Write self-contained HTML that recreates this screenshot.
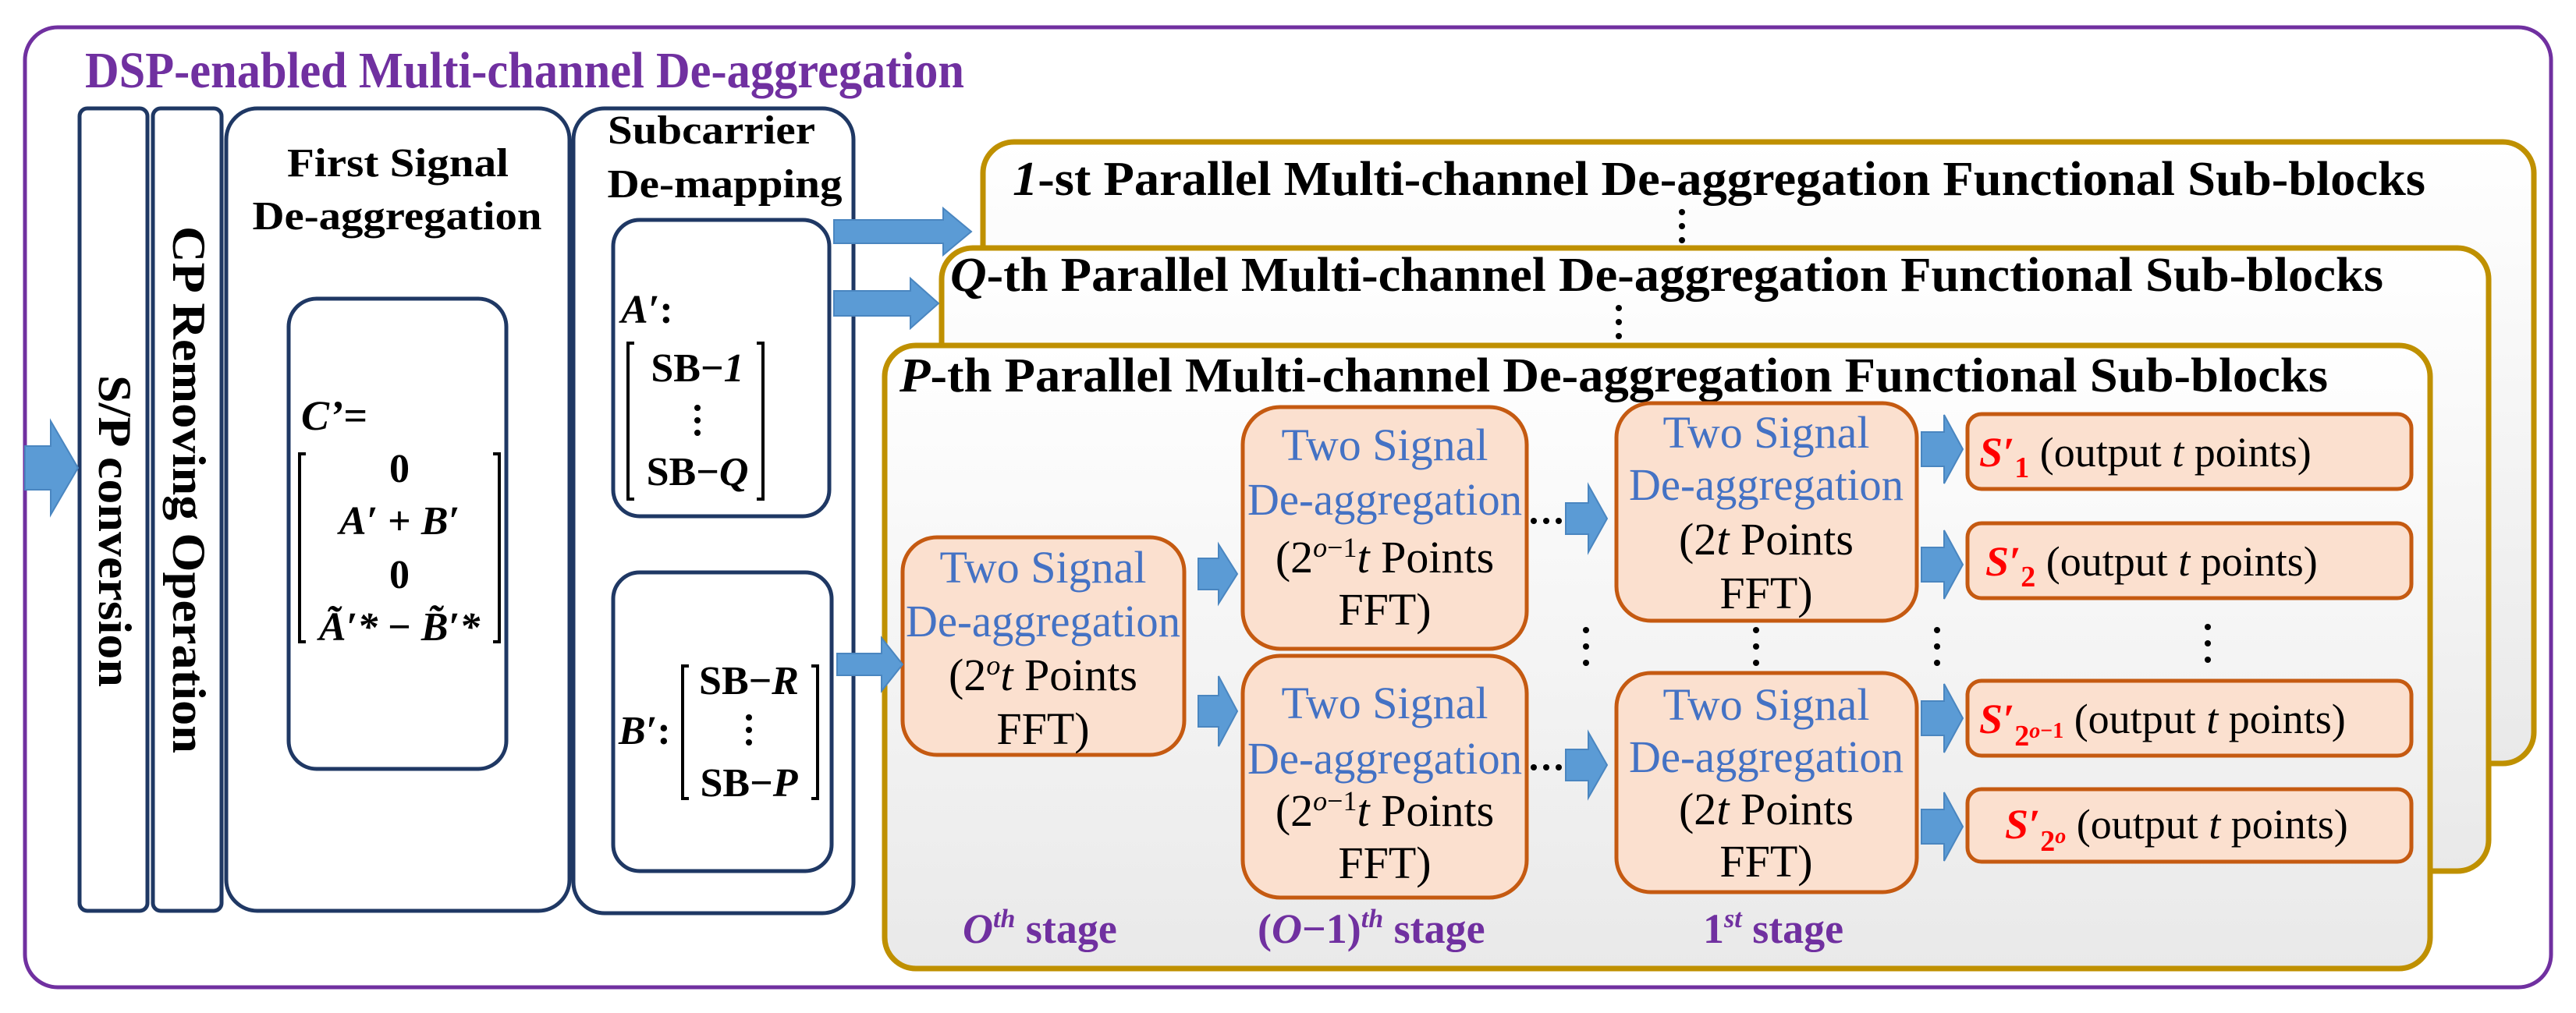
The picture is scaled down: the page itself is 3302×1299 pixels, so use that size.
<!DOCTYPE html>
<html><head><meta charset="utf-8"><style>html,body{margin:0;padding:0;background:#fff}svg{display:block}svg text,svg tspan{font-family:"Liberation Serif",serif}</style></head>
<body>
<svg width="3302" height="1299" viewBox="0 0 3302 1299" xmlns="http://www.w3.org/2000/svg" font-family="Liberation Serif, serif">
<defs>
<linearGradient id="gg" x1="0" y1="0" x2="0" y2="1"><stop offset="0" stop-color="#ffffff"/><stop offset="1" stop-color="#e9e9e9"/></linearGradient>
</defs>
<rect width="3302" height="1299" fill="#fff"/>
<rect x="32" y="35" width="3238" height="1231" rx="42" fill="#fff" stroke="#7030A0" stroke-width="5"/>
<text x="109" y="112" font-size="66" font-weight="bold" fill="#7030A0" textLength="1127" lengthAdjust="spacingAndGlyphs">DSP-enabled Multi-channel De-aggregation</text>

<g fill="#fff" stroke="#1F3864" stroke-width="5">
<rect x="102" y="139" width="87" height="1029" rx="10"/>
<rect x="196" y="139" width="88" height="1029" rx="10"/>
<rect x="290" y="139" width="440" height="1029" rx="40"/>
<rect x="735" y="139" width="359" height="1032" rx="40"/>
<rect x="370" y="383" width="279" height="603" rx="36"/>
<rect x="786" y="282" width="277" height="380" rx="34"/>
<rect x="786" y="734" width="280" height="383" rx="34"/>
</g>
<text transform="translate(147,681) rotate(90)" text-anchor="middle" dominant-baseline="central" font-size="60" font-weight="bold" textLength="400" lengthAdjust="spacingAndGlyphs">S/P conversion</text>
<text transform="translate(242,628) rotate(90)" text-anchor="middle" dominant-baseline="central" font-size="60" font-weight="bold" textLength="676" lengthAdjust="spacingAndGlyphs">CP Removing Operation</text>

<g font-weight="bold" font-size="52" text-anchor="middle">
<text x="510" y="226" textLength="284" lengthAdjust="spacingAndGlyphs">First Signal</text>
<text x="509" y="294" textLength="371" lengthAdjust="spacingAndGlyphs">De-aggregation</text>
<text x="912" y="184" textLength="266" lengthAdjust="spacingAndGlyphs">Subcarrier</text>
<text x="929" y="253" textLength="301" lengthAdjust="spacingAndGlyphs">De-mapping</text>
</g>
<text x="386" y="551" font-size="54" font-weight="bold" font-style="italic">C’=</text>
<g stroke="#000" stroke-width="4" fill="none">
<path d="M392 582 L384 582 L384 823 L392 823"/>
<path d="M632 582 L640 582 L640 823 L632 823"/>
<path d="M813 440 L805 440 L805 640 L813 640"/>
<path d="M970 440 L978 440 L978 640 L970 640"/>
<path d="M883 854 L875 854 L875 1024 L883 1024"/>
<path d="M1040 854 L1048 854 L1048 1024 L1040 1024"/>
</g>
<g font-size="52" font-weight="bold" text-anchor="middle">
<text x="512" y="618">0</text>
<text x="512" y="685"><tspan font-style="italic">A′</tspan> + <tspan font-style="italic">B′</tspan></text>
<text x="512" y="754">0</text>
<text x="512" y="821"><tspan font-style="italic">Ã′*</tspan> − <tspan font-style="italic">B̃′*</tspan></text>
<text x="894" y="489">SB−<tspan font-style="italic">1</tspan></text>
<text x="894" y="622">SB−<tspan font-style="italic">Q</tspan></text>
<text x="960" y="890">SB−<tspan font-style="italic">R</tspan></text>
<text x="960" y="1021">SB−<tspan font-style="italic">P</tspan></text>
</g>
<text x="796" y="414" font-size="52" font-weight="bold"><tspan font-style="italic">A′</tspan>:</text>
<text x="793" y="954" font-size="52" font-weight="bold"><tspan font-style="italic">B′</tspan>:</text>
<g fill="#000">
<circle cx="894" cy="523" r="4"/><circle cx="894" cy="539" r="4"/><circle cx="894" cy="555" r="4"/>
<circle cx="960" cy="920" r="4"/><circle cx="960" cy="936" r="4"/><circle cx="960" cy="952" r="4"/>
</g>

<g stroke="#BF9000" stroke-width="7" fill="url(#gg)">
<rect x="1260" y="182" width="1988" height="797" rx="40"/>
<rect x="1207" y="318" width="1983" height="799" rx="40"/>
<rect x="1134" y="443" width="1981" height="799" rx="40"/>
</g>
<g font-size="62" font-weight="bold">
<text x="1298" y="250" textLength="1811" lengthAdjust="spacingAndGlyphs"><tspan font-style="italic">1</tspan>-st Parallel Multi-channel De-aggregation Functional Sub-blocks</text>
<text x="1218" y="373" textLength="1837" lengthAdjust="spacingAndGlyphs"><tspan font-style="italic">Q</tspan>-th Parallel Multi-channel De-aggregation Functional Sub-blocks</text>
<text x="1153" y="502" textLength="1831" lengthAdjust="spacingAndGlyphs"><tspan font-style="italic">P</tspan>-th Parallel Multi-channel De-aggregation Functional Sub-blocks</text>
</g>

<g fill="#FBE0CF" stroke="#C55A11" stroke-width="5">
<rect x="1157" y="689" width="361" height="279" rx="44"/>
<rect x="1593" y="522" width="364" height="310" rx="48"/>
<rect x="1593" y="841" width="364" height="310" rx="48"/>
<rect x="2072" y="517" width="385" height="279" rx="44"/>
<rect x="2072" y="863" width="385" height="281" rx="44"/>
<rect x="2522" y="531" width="569" height="96" rx="18"/>
<rect x="2522" y="671" width="569" height="96" rx="18"/>
<rect x="2522" y="873" width="569" height="96" rx="18"/>
<rect x="2522" y="1012" width="569" height="93" rx="18"/>
</g>
<g font-size="58" text-anchor="middle">
<g fill="#4472C4">
<text x="1337" y="747">Two Signal</text>
<text x="1337" y="816" textLength="352" lengthAdjust="spacingAndGlyphs">De-aggregation</text>
<text x="1775" y="590">Two Signal</text>
<text x="1775" y="660" textLength="352" lengthAdjust="spacingAndGlyphs">De-aggregation</text>
<text x="1775" y="921">Two Signal</text>
<text x="1775" y="992" textLength="352" lengthAdjust="spacingAndGlyphs">De-aggregation</text>
<text x="2264" y="574">Two Signal</text>
<text x="2264" y="641" textLength="352" lengthAdjust="spacingAndGlyphs">De-aggregation</text>
<text x="2264" y="923">Two Signal</text>
<text x="2264" y="990" textLength="352" lengthAdjust="spacingAndGlyphs">De-aggregation</text>
</g>
<text x="1337" y="885">(2<tspan font-size="36" dy="-20" font-style="italic">o</tspan><tspan dy="20" font-style="italic">t</tspan> Points</text>
<text x="1337" y="954">FFT)</text>
<text x="1775" y="734">(2<tspan font-size="36" dy="-20"><tspan font-style="italic">o</tspan>−1</tspan><tspan dy="20" font-style="italic">t</tspan> Points</text>
<text x="1775" y="801">FFT)</text>
<text x="1775" y="1059">(2<tspan font-size="36" dy="-20"><tspan font-style="italic">o</tspan>−1</tspan><tspan dy="20" font-style="italic">t</tspan> Points</text>
<text x="1775" y="1126">FFT)</text>
<text x="2264" y="711">(2<tspan font-style="italic">t</tspan> Points</text>
<text x="2264" y="780">FFT)</text>
<text x="2264" y="1057">(2<tspan font-style="italic">t</tspan> Points</text>
<text x="2264" y="1124">FFT)</text>
</g>

<g font-size="54">
<text x="2537" y="598"><tspan fill="#f00" font-weight="bold" font-style="italic">S′</tspan><tspan fill="#f00" font-weight="bold" font-size="38" dy="14">1</tspan><tspan dy="-14"> (output </tspan><tspan font-style="italic">t</tspan> points)</text>
<text x="2545" y="738"><tspan fill="#f00" font-weight="bold" font-style="italic">S′</tspan><tspan fill="#f00" font-weight="bold" font-size="38" dy="14">2</tspan><tspan dy="-14"> (output </tspan><tspan font-style="italic">t</tspan> points)</text>
<text x="2537" y="940"><tspan fill="#f00" font-weight="bold" font-style="italic">S′</tspan><tspan fill="#f00" font-weight="bold" font-size="38" dy="16">2</tspan><tspan fill="#f00" font-weight="bold" font-size="28" dy="-10"><tspan font-style="italic">o</tspan>−1</tspan><tspan dy="-6"> (output </tspan><tspan font-style="italic">t</tspan> points)</text>
<text x="2570" y="1075"><tspan fill="#f00" font-weight="bold" font-style="italic">S′</tspan><tspan fill="#f00" font-weight="bold" font-size="38" dy="16">2</tspan><tspan fill="#f00" font-weight="bold" font-style="italic" font-size="28" dy="-10">o</tspan><tspan dy="-6"> (output </tspan><tspan font-style="italic">t</tspan> points)</text>
</g>

<g font-size="54" font-weight="bold" fill="#7030A0">
<text x="1234" y="1209"><tspan font-style="italic">O</tspan><tspan font-size="34" dy="-20" font-style="italic">th</tspan><tspan dy="20"> stage</tspan></text>
<text x="1612" y="1209">(<tspan font-style="italic">O</tspan>−1)<tspan font-size="34" dy="-20" font-style="italic">th</tspan><tspan dy="20"> stage</tspan></text>
<text x="2183" y="1209">1<tspan font-size="34" dy="-20" font-style="italic">st</tspan><tspan dy="20"> stage</tspan></text>
</g>

<g fill="#000">
<circle cx="2156" cy="272" r="4"/><circle cx="2156" cy="290" r="4"/><circle cx="2156" cy="308" r="4"/>
<circle cx="2075" cy="395" r="4"/><circle cx="2075" cy="413" r="4"/><circle cx="2075" cy="431" r="4"/>
<circle cx="2033" cy="808" r="4"/><circle cx="2033" cy="829" r="4"/><circle cx="2033" cy="850" r="4"/>
<circle cx="2251" cy="808" r="4"/><circle cx="2251" cy="829" r="4"/><circle cx="2251" cy="850" r="4"/>
<circle cx="2483" cy="808" r="4"/><circle cx="2483" cy="829" r="4"/><circle cx="2483" cy="850" r="4"/>
<circle cx="2830" cy="804" r="4"/><circle cx="2830" cy="825" r="4"/><circle cx="2830" cy="846" r="4"/>
<circle cx="1966" cy="668" r="4"/><circle cx="1982" cy="668" r="4"/><circle cx="1998" cy="668" r="4"/>
<circle cx="1966" cy="984" r="4"/><circle cx="1982" cy="984" r="4"/><circle cx="1998" cy="984" r="4"/>
</g>

<g fill="#5B9BD5" stroke="#4A86C0" stroke-width="2">
<path d="M32 572 L65 572 L65 540 L100 600 L65 660 L65 628 L32 628Z"/>
<path d="M1069 282 L1209 282 L1209 267 L1245 297 L1209 327 L1209 312 L1069 312Z"/>
<path d="M1069 373 L1167 373 L1167 357 L1203 389 L1167 421 L1167 405 L1069 405Z"/>
<path d="M1073 838 L1130 838 L1130 818 L1157 852 L1130 886 L1130 866 L1073 866Z"/>
<path d="M1536 716 L1562 716 L1562 698 L1586 736 L1562 774 L1562 756 L1536 756Z"/>
<path d="M1536 892 L1562 892 L1562 867 L1586 912 L1562 957 L1562 932 L1536 932Z"/>
<path d="M2007 645 L2036 645 L2036 622 L2060 665 L2036 708 L2036 685 L2007 685Z"/>
<path d="M2007 961 L2036 961 L2036 939 L2060 981 L2036 1023 L2036 1001 L2007 1001Z"/>
<path d="M2463 554 L2492 554 L2492 532 L2516 576 L2492 620 L2492 598 L2463 598Z"/>
<path d="M2463 702 L2492 702 L2492 680 L2516 724 L2492 768 L2492 746 L2463 746Z"/>
<path d="M2463 899 L2492 899 L2492 877 L2516 921 L2492 965 L2492 943 L2463 943Z"/>
<path d="M2463 1038 L2492 1038 L2492 1016 L2516 1060 L2492 1104 L2492 1082 L2463 1082Z"/>
</g>
</svg>
</body></html>
